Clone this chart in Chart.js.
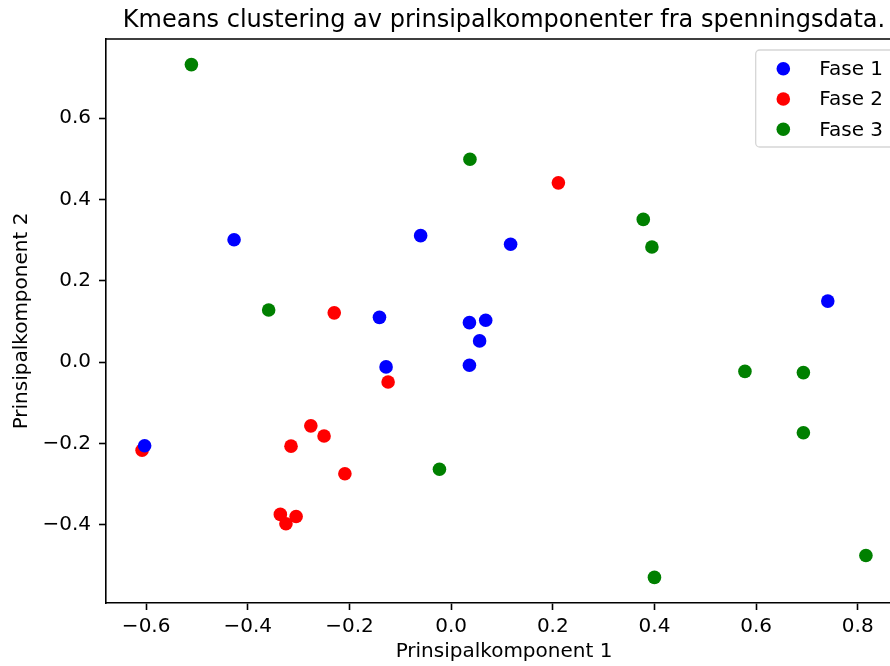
<!DOCTYPE html>
<html>
<head>
<meta charset="utf-8">
<script src="https://cdn.jsdelivr.net/npm/chart.js@4/dist/chart.umd.min.js"></script>
<style>
  html, body { margin: 0; padding: 0; background: #fff; }
  #wrap { width: 890px; height: 666px; overflow: hidden; position: relative; }
  #pcaChart { display: block; }
</style>
</head>
<body>
<div id="wrap"><canvas id="pcaChart" width="960" height="666"></canvas></div>
<script>
// Kmeans-klynger, lest av bildet
const seriesLabels = ['Fase 1', 'Fase 2', 'Fase 3'];
const seriesColors = ['#0000ff', '#ff0000', '#008000'];

const fase1X = [-0.603, -0.427, -0.060, 0.117, -0.141, -0.128, 0.036, 0.068, 0.056, 0.036, 0.741];
const fase1Y = [-0.206, 0.301, 0.311, 0.290, 0.110, -0.012, 0.097, 0.103, 0.052, -0.008, 0.150];

const fase2X = [-0.608, -0.315, -0.276, -0.250, -0.209, -0.336, -0.325, -0.305, -0.124, -0.230, 0.211];
const fase2Y = [-0.217, -0.207, -0.157, -0.182, -0.275, -0.375, -0.398, -0.380, -0.049, 0.121, 0.441];

const fase3X = [-0.511, -0.359, 0.037, 0.378, 0.395, -0.023, 0.578, 0.693, 0.693, 0.816, 0.400];
const fase3Y = [0.732, 0.128, 0.499, 0.351, 0.283, -0.264, -0.023, -0.026, -0.174, -0.476, -0.530];

const xRange = [-0.679, 0.887];
const yRange = [-0.593, 0.795];
const tickStep = 0.2;

const FONT = 'DejaVu Sans';

function toPoints(xs, ys) {
    return xs.map((x, i) => ({ x: x, y: ys[i] }));
}

function fmtTick(v) {
    const r = Math.round(v * 10) / 10;
    if (Math.abs(r) < 1e-9) return '0.0';
    return (r < 0 ? '\u2212' : '') + Math.abs(r).toFixed(1);
}

const allX = [fase1X, fase2X, fase3X];
const allY = [fase1Y, fase2Y, fase3Y];

const datasets = seriesLabels.map((label, i) => ({
    label: label,
    data: toPoints(allX[i], allY[i]),
    backgroundColor: seriesColors[i],
    borderColor: seriesColors[i],
    pointRadius: 6.8,
    pointHoverRadius: 6.8,
    pointBorderWidth: 0
}));

// tittel + ramme + forklaring tegnes selv, som i matplotlib
const mplDecor = {
    id: 'mplDecor',
    afterDraw(chart) {
        const ctx = chart.ctx;
        const a = chart.chartArea;
        ctx.save();

        // top + right spine
        ctx.strokeStyle = '#000';
        ctx.lineWidth = 1.6;
        ctx.beginPath();
        ctx.moveTo(a.left, a.top);
        ctx.lineTo(a.right, a.top);
        ctx.lineTo(a.right, a.bottom);
        ctx.stroke();

        // title
        ctx.fillStyle = '#000';
        ctx.font = '24px "' + FONT + '"';
        ctx.textAlign = 'center';
        ctx.textBaseline = 'alphabetic';
        ctx.fillText('Kmeans clustering av prinsipalkomponenter fra spenningsdata.', (a.left + a.right) / 2, 27);

        // legend
        const boxR = a.right - 8;
        const boxL = 755.7;
        const boxT = a.top + 11;
        const boxB = boxT + 97;
        const rad = 4;
        ctx.fillStyle = 'rgba(255,255,255,0.8)';
        ctx.strokeStyle = '#d6d6d6';
        ctx.lineWidth = 1.3;
        ctx.beginPath();
        ctx.moveTo(boxL + rad, boxT);
        ctx.lineTo(boxR - rad, boxT);
        ctx.arcTo(boxR, boxT, boxR, boxT + rad, rad);
        ctx.lineTo(boxR, boxB - rad);
        ctx.arcTo(boxR, boxB, boxR - rad, boxB, rad);
        ctx.lineTo(boxL + rad, boxB);
        ctx.arcTo(boxL, boxB, boxL, boxB - rad, rad);
        ctx.lineTo(boxL, boxT + rad);
        ctx.arcTo(boxL, boxT, boxL + rad, boxT, rad);
        ctx.closePath();
        ctx.fill();
        ctx.stroke();

        ctx.font = '20px "' + FONT + '"';
        ctx.textAlign = 'left';
        ctx.textBaseline = 'middle';
        chart.data.datasets.forEach((ds, i) => {
            const cy = boxT + 18.7 + i * 30.3;
            ctx.fillStyle = ds.backgroundColor;
            ctx.beginPath();
            ctx.arc(boxL + 27.6, cy, 6.8, 0, Math.PI * 2);
            ctx.fill();
            ctx.fillStyle = '#000';
            ctx.fillText(ds.label, boxL + 63.6, cy + 1);
        });

        ctx.restore();
    }
};

const axisGrid = {
    display: true,
    drawOnChartArea: false,
    drawTicks: true,
    tickLength: 7,
    tickWidth: 1.6,
    tickColor: '#000'
};

const ctx = document.getElementById('pcaChart').getContext('2d');
new Chart(ctx, {
    type: 'scatter',
    data: { datasets: datasets },
    plugins: [mplDecor],
    options: {
        responsive: false,
        animation: false,
        devicePixelRatio: 1,
        layout: {
            autoPadding: false,
            padding: { left: 0, top: 39, right: 58, bottom: 0 }
        },
        plugins: {
            legend: { display: false },
            title: { display: false },
            tooltip: { enabled: false }
        },
        scales: {
            x: {
                type: 'linear',
                min: xRange[0],
                max: xRange[1],
                afterFit: s => { s.height = 63; },
                grid: axisGrid,
                border: { display: true, color: '#000', width: 1.6 },
                ticks: {
                    stepSize: tickStep,
                    includeBounds: false,
                    color: '#000',
                    padding: 5,
                    maxRotation: 0,
                    font: { family: FONT, size: 20 },
                    callback: v => fmtTick(v)
                },
                title: {
                    display: true,
                    text: 'Prinsipalkomponent 1',
                    color: '#000',
                    font: { family: FONT, size: 20 },
                    padding: { top: 0, bottom: 2 }
                }
            },
            y: {
                type: 'linear',
                min: yRange[0],
                max: yRange[1],
                afterFit: s => { s.width = 106; },
                grid: axisGrid,
                border: { display: true, color: '#000', width: 1.6 },
                ticks: {
                    stepSize: tickStep,
                    includeBounds: false,
                    color: '#000',
                    padding: 8,
                    font: { family: FONT, size: 20 },
                    callback: v => fmtTick(v)
                },
                title: {
                    display: true,
                    text: 'Prinsipalkomponent 2',
                    color: '#000',
                    font: { family: FONT, size: 20 },
                    padding: { top: 10, bottom: 0 }
                }
            }
        }
    }
});
</script>
</body>
</html>
